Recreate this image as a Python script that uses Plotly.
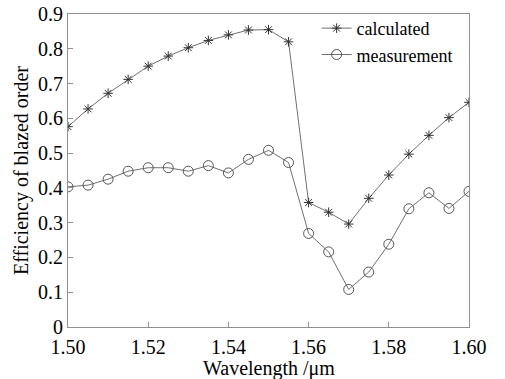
import plotly.graph_objects as go

wavelength = [1.500, 1.505, 1.510, 1.515, 1.520, 1.525, 1.530, 1.535, 1.540, 1.545,
              1.550, 1.555, 1.560, 1.565, 1.570, 1.575, 1.580, 1.585, 1.590, 1.595, 1.600]
calculated = [0.576, 0.627, 0.672, 0.712, 0.750, 0.779, 0.803, 0.824, 0.840, 0.854,
              0.855, 0.820, 0.358, 0.330, 0.296, 0.370, 0.437, 0.497, 0.551, 0.602, 0.646]
measurement = [0.403, 0.408, 0.425, 0.448, 0.458, 0.458, 0.448, 0.464, 0.443, 0.482,
               0.508, 0.473, 0.269, 0.216, 0.108, 0.158, 0.238, 0.340, 0.386, 0.341, 0.390]

xticks = [1.50, 1.52, 1.54, 1.56, 1.58, 1.60]
xticklabels = ["1.50", "1.52", "1.54", "1.56", "1.58", "1.60"]
yticks = [0, 0.1, 0.2, 0.3, 0.4, 0.5, 0.6, 0.7, 0.8, 0.9]
yticklabels = ["0", "0.1", "0.2", "0.3", "0.4", "0.5", "0.6", "0.7", "0.8", "0.9"]
x_title = "Wavelength /μm"
y_title = "Efficiency of blazed order"

font_family = "Liberation Serif"

fig = go.Figure()
fig.add_trace(go.Scatter(
    x=wavelength, y=calculated, mode="lines+markers", name="calculated",
    line=dict(color="#707070", width=1),
    marker=dict(symbol="asterisk-open", size=8, color="#333333", line=dict(width=1, color="#333333")),
))
fig.add_trace(go.Scatter(
    x=wavelength, y=measurement, mode="lines+markers", name="measurement",
    line=dict(color="#707070", width=1),
    marker=dict(symbol="circle-open", size=10, color="#555555", line=dict(width=1, color="#555555")),
))

axis_common = dict(
    showgrid=False, zeroline=False, showline=True, linecolor="#909090", linewidth=1,
    mirror=True, ticks="inside", ticklen=5, tickcolor="#909090",
    tickfont=dict(family=font_family, size=20, color="black"),
    automargin=False,
)

fig.update_layout(
    width=505, height=379,
    margin=dict(l=68, r=36, t=14, b=52, autoexpand=False),
    paper_bgcolor="white", plot_bgcolor="white",
    font=dict(family=font_family, color="black", size=20),
    xaxis=dict(range=[1.50, 1.60], tickvals=xticks, ticktext=xticklabels,
               ticklabelstandoff=2, **axis_common),
    yaxis=dict(range=[0, 0.9], tickvals=yticks, ticktext=yticklabels,
               title=dict(text=y_title, font=dict(family=font_family, size=20), standoff=4),
               **axis_common),
    legend=dict(x=0.62, y=1.013, xanchor="left", yanchor="top", bgcolor="rgba(0,0,0,0)",
                font=dict(family=font_family, size=18, color="black"),
                itemwidth=30, tracegroupgap=0),
    showlegend=True,
    annotations=[dict(text=x_title, xref="paper", yref="paper", x=0.5, y=-0.133,
                      xanchor="center", yanchor="middle", showarrow=False,
                      font=dict(family=font_family, size=20, color="black"))],
)

fig.write_html("out.html", config={"displayModeBar": False},
               post_script="document.body.style.margin='0';")
